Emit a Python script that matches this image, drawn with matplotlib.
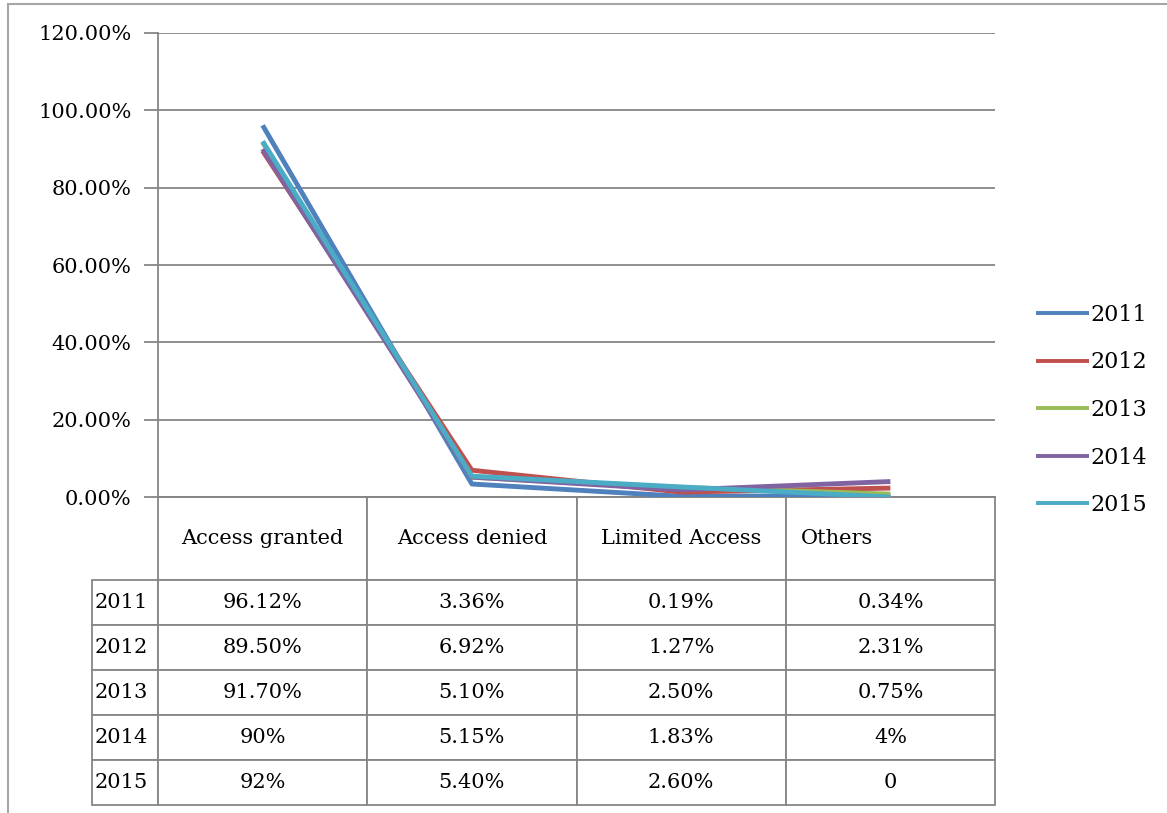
import numpy as np
import matplotlib.pyplot as plt
from matplotlib.patches import Rectangle

plt.rcParams['font.family'] = ['DejaVu Serif']

# data
categories = ['Access granted', 'Access denied', 'Limited Access', 'Others']
years = ['2011', '2012', '2013', '2014', '2015']
v2011 = [96.12, 3.36, 0.19, 0.34]
v2012 = [89.50, 6.92, 1.27, 2.31]
v2013 = [91.70, 5.10, 2.50, 0.75]
v2014 = [90.0, 5.15, 1.83, 4.0]
v2015 = [92.0, 5.40, 2.60, 0.0]
table_text = [
    ['96.12%', '3.36%', '0.19%', '0.34%'],
    ['89.50%', '6.92%', '1.27%', '2.31%'],
    ['91.70%', '5.10%', '2.50%', '0.75%'],
    ['90%', '5.15%', '1.83%', '4%'],
    ['92%', '5.40%', '2.60%', '0'],
]
y_ticks = [0, 20, 40, 60, 80, 100, 120]
colors = ['#4F81BD', '#C0504D', '#9BBB59', '#8064A2', '#4BACC6']
grid_col = '#868686'

fig = plt.figure(figsize=(11.67, 8.13), dpi=100)
ax = fig.add_axes([158 / 1167, 1 - 497 / 813, 837 / 1167, 464 / 813])

x = np.arange(len(categories))
for yr, vals, c in zip(years, [v2011, v2012, v2013, v2014, v2015], colors):
    ax.plot(x, vals, color=c, lw=3.5, label=yr, solid_capstyle='butt', zorder=3)

ax.set_xlim(-0.5, len(categories) - 0.5)
ax.set_ylim(0, 120)
ax.set_yticks(y_ticks)
ax.set_yticklabels([f'{t:.2f}%' for t in y_ticks])
ax.set_xticks([])
ax.grid(axis='y', color=grid_col, lw=1.3)
for s in ['top', 'right']:
    ax.spines[s].set_visible(False)
for s in ['left', 'bottom']:
    ax.spines[s].set_color(grid_col)
    ax.spines[s].set_linewidth(1.3)
ax.tick_params(axis='y', length=10, width=1.3, color=grid_col, pad=9, labelsize=15)

# data table under the plot (first column = year labels)
cells = [[''] + categories] + [[yr] + row for yr, row in zip(years, table_text)]
tbl = ax.table(cellText=cells, colWidths=[66] + [209] * 4, cellLoc='center',
               bbox=[-66 / 837, -308 / 464, 903 / 837, 308 / 464])
tbl.auto_set_font_size(False)
tbl.set_fontsize(15)
for (r, c), cell in tbl.get_celld().items():
    cell.set_edgecolor(grid_col)
    cell.set_linewidth(1.3)
    cell.set_height(83 if r == 0 else 45)
    if r == 0 and c == 0:
        cell.visible_edges = ''
    if c == 0:
        cell.PAD = 0.04
        cell.get_text().set_horizontalalignment('left')
    if r == 0 and c == 4:
        cell.PAD = 0.07
        cell.get_text().set_horizontalalignment('left')

leg = fig.legend(loc='center left', bbox_to_anchor=(1016 / 1167, 1 - 410 / 813),
                 frameon=False, fontsize=16, handlelength=2.4, handletextpad=0.05,
                 labelspacing=1.15)
for h in leg.get_lines():
    h.set_linewidth(2.8)

fig.add_artist(Rectangle((8 / 1167, -0.05), 1.2, 1 - 4 / 813 + 0.05,
                         transform=fig.transFigure, fill=False,
                         edgecolor='#a6a6a6', lw=1.5))

fig.savefig('out.png', dpi=100)
